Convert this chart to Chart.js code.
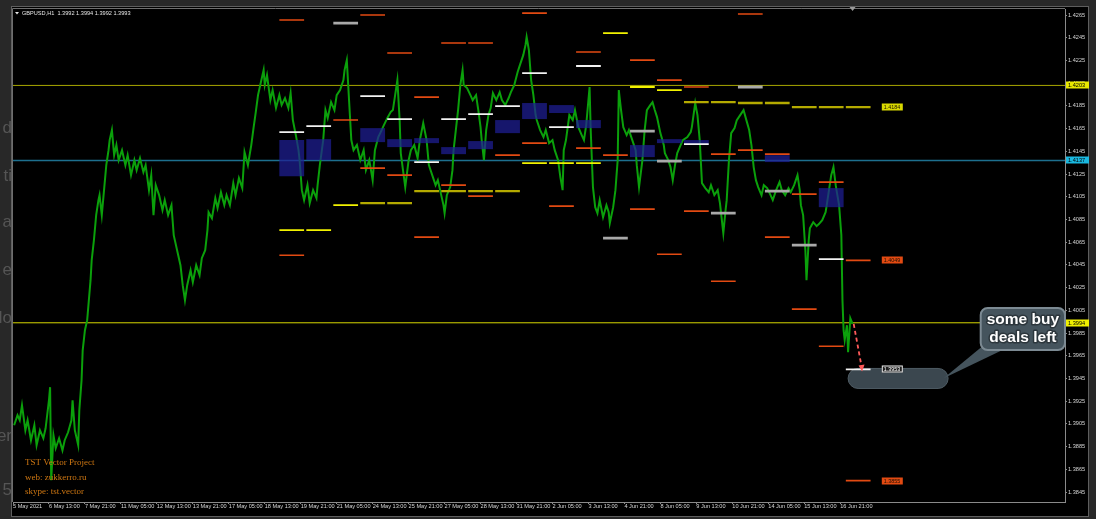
<!DOCTYPE html>
<html>
<head>
<meta charset="utf-8">
<title>GBPUSD,H1</title>
<script src="https://cdn.jsdelivr.net/npm/chart.js@4.4.0/dist/chart.umd.min.js"></script>
<style>
html,body{margin:0;padding:0;background:#282828;overflow:hidden}
canvas{display:block}
</style>
</head>
<body>
<canvas id="chart" width="1096" height="519"></canvas>
<script>
// time axis: one label every 32 hourly bars
var timeLabels = ["5 May 2021","6 May 13:00","7 May 21:00","11 May 05:00","12 May 13:00","13 May 21:00",
  "17 May 05:00","18 May 13:00","19 May 21:00","21 May 05:00","24 May 13:00","25 May 21:00","27 May 05:00",
  "28 May 13:00","31 May 21:00","2 Jun 05:00","3 Jun 13:00","4 Jun 21:00","8 Jun 05:00","9 Jun 13:00",
  "10 Jun 21:00","14 Jun 05:00","15 Jun 13:00","16 Jun 21:00"];
var priceTicks = [1.4265,1.4245,1.4225,1.4205,1.4185,1.4165,1.4145,1.4125,1.4105,1.4085,1.4065,
  1.4045,1.4025,1.4005,1.3985,1.3965,1.3945,1.3925,1.3905,1.3885,1.3865,1.3845];

// GBPUSD H1 close (bar index, price)
var priceBar = [1,4,6,8,11,13,16,19,21,24,27,29,32,33,34,36,38,41,44,46,49,52,53,55,58,59,
  61,62,64,66,69,70,72,74,76,77, 79,81,83,85,86,88,90,92,94,97, 100,102,105,108,110,113,116,118,121,123,
  125,127,130,133,135,138,141,143,146,149, 151,153,155,158,160,163,166,168,171,173,
  174,177,180,182,185,188,190,193,196,198, 201,204,206,209,212,214,216,218,221,223,
  224,226,229,231,234,237,239,242,245,247, 249,252,254,255,257,259,262,264,267,270,
  271,273,276,278,280,283,286,288,291,294, 295,297,299,301,303,306,309,312,314,317,
  320,322,325,328,330,333,336,338,340,342, 344,345,347,349,352,354,357,360,362,365,
  368,370,373,376,378,381,383,384,386,389, 391,392,394,396,398,400,401,404,407,409,
  412,414,416,417,419,421,423,425,427,430, 433,435,438,441,443,446,449,451,454,456,
  457,459,461,463,465,466,469,472,474,477, 480,482,485,487,489,490,492,495,498,500,
  503,506,508,510,513,514,516,518,520,522, 525,528,530,531,534,536,538,539,541,543,
  546,548,551,554,555,557,560,562,564,567, 569,571,573,576,579,580,583,585,587,589,
  591,594,596,600,603,604,607,609,611,613, 616,619,621,624,627,629,632,634,635,637,
  639,642,644,647,650,652,655,657,659,661, 663,666,668,671,674,676,679,682,684,687,
  690,692,695,698,700,701,703,705,706,708, 709,712,715,717,720,723,724,726,728,730,
  732,733,735,737,738,739,740,742,743,745,747];
var priceClose = [1.39038,1.39126,1.39082,1.39214,1.38994,1.39082,1.38906,1.39038,1.38862,1.38994,1.38923,1.39011,1.39258,1.39373,1.38553,1.38950,1.38835,1.38923,1.38817,1.38906,1.38976,1.39082,1.39258,1.38994,1.38862,1.39170,
  1.39434,1.39698,1.39875,1.39963,1.40315,1.40491,1.40668,1.40888,1.41020,1.41064,
  1.40888,1.41108,1.41328,1.41460,1.41549,1.41637,1.41416,1.41505,1.41372,1.41460,
  1.41328,1.41416,1.41240,1.41372,1.41284,1.41390,1.41267,1.41328,1.41108,1.41240,
  1.40888,1.41152,1.41064,1.40932,1.41020,1.40888,1.40976,1.40712,1.40579,1.40447,
  1.40271,1.40139,1.40271,1.40403,1.40298,1.40447,1.40359,1.40509,1.40579,1.40756,
  1.40914,1.40861,1.41038,1.40950,1.41090,1.40976,1.41064,1.40976,1.41170,1.41064,
  1.41214,1.41126,1.41443,1.41328,1.41505,1.41654,1.41795,1.41945,1.42077,1.42165,
  1.42033,1.42121,1.41901,1.41989,1.41831,1.41945,1.41857,1.41919,1.41831,1.41963,
  1.41725,1.41575,1.41460,1.41372,1.41108,1.41020,1.41152,1.40994,1.41108,1.41038,
  1.41152,1.41328,1.41549,1.41813,1.41742,1.41883,1.41813,1.41945,1.41989,1.42077,
  1.42165,1.42253,1.41901,1.41549,1.41460,1.41505,1.41372,1.41460,1.41284,1.41372,
  1.41196,1.41460,1.41575,1.41637,1.41681,1.41742,1.41795,1.41813,1.41945,1.42077,
  1.41725,1.41434,1.41284,1.41135,1.41372,1.41460,1.41505,1.41390,1.41549,1.41698,
  1.41549,1.41328,1.41240,1.41152,1.41196,1.41064,1.40976,1.40905,1.41064,1.41135,
  1.41284,1.41460,1.41637,1.41813,1.42033,1.42165,1.42033,1.42007,1.41945,1.41901,
  1.41945,1.41813,1.41663,1.41549,1.41372,1.41637,1.41769,1.41831,1.41963,1.41901,
  1.41971,1.41901,1.41857,1.41919,1.41971,1.42033,1.42148,1.42209,1.42297,1.42386,
  1.42456,1.42341,1.42077,1.41945,1.41769,1.41725,1.41637,1.41575,1.41637,1.41522,
  1.41549,1.41460,1.41372,1.41223,1.41108,1.41460,1.41549,1.41769,1.41725,1.41813,
  1.41663,1.41593,1.41549,1.41681,1.42016,1.41637,1.41135,1.40958,1.40905,1.41020,
  1.40870,1.40976,1.40914,1.40817,1.40958,1.41108,1.41372,1.41989,1.41813,1.41663,
  1.41593,1.41637,1.41549,1.41460,1.41328,1.41135,1.41372,1.41637,1.41813,1.41857,
  1.41883,1.41813,1.41751,1.41610,1.41505,1.41434,1.41372,1.41311,1.41196,1.41328,
  1.41434,1.41505,1.41549,1.41575,1.41619,1.41663,1.41875,1.41769,1.41549,1.41170,
  1.41126,1.41090,1.41152,1.41064,1.41108,1.40994,1.40729,1.40932,1.41020,1.41372,
  1.41610,1.41654,1.41725,1.41769,1.41813,1.41742,1.41637,1.41505,1.41311,1.41196,
  1.41135,1.41064,1.41152,1.41126,1.41064,1.41020,1.41108,1.41179,1.41108,1.41064,
  1.41126,1.41090,1.41152,1.41240,1.41108,1.40976,1.40888,1.40579,1.40315,1.40668,
  1.40773,1.40826,1.40791,1.40809,1.40844,1.40914,1.40976,1.41108,1.41240,1.41311,
  1.41152,1.41090,1.40976,1.40712,1.40139,1.39875,1.39787,1.39919,1.39681,1.39980,1.39930];

// daily indicator levels: [day column, price]
var dayStart = 237, dayBars = 24, segBars = 22;
var redLevels = [[0,1.42606],[0,1.40535],[2,1.41725],[3,1.42650],[3,1.41302],[4,1.42315],[4,1.41240],
  [5,1.41927],[5,1.40694],[6,1.42403],[6,1.41152],[7,1.42403],[7,1.41055],[8,1.41416],[9,1.42667],[9,1.41522],
  [10,1.40967],[11,1.42324],[11,1.41478],[12,1.41416],[13,1.42253],[13,1.40941],[14,1.42077],[14,1.40544],
  [15,1.42016],[15,1.40923],[16,1.41425],[16,1.40306],[17,1.42659],[17,1.41460],[18,1.41425],[18,1.40694],
  [19,1.41073],[19,1.40060],[20,1.41179],[20,1.39734],[21,1.4049],[21,1.3855]];
var whiteLevels = [[0,1.41619],[1,1.41672],[3,1.41936],[4,1.41734],[5,1.41355],[6,1.41734],[7,1.41778],
  [8,1.41848],[9,1.42139],[10,1.41663],[11,1.42201],[15,1.41513],[20,1.40500],[21,1.3953]];
var grayLevels = [[2,1.42579],[12,1.40685],[13,1.41628],[14,1.41364],[16,1.40905],[17,1.42016],[18,1.41099],[19,1.40624]];
var yellowLevels = [[0,1.40756],[1,1.40756],[2,1.40976],[9,1.41346],[10,1.41346],[11,1.41346],[12,1.42491],[13,1.42016],[14,1.41989]];
var oliveLevels = [[3,1.40994],[4,1.40994],[5,1.41099],[6,1.41099],[7,1.41099],[8,1.41099],[15,1.41883],[16,1.41883],
  [17,1.41875],[18,1.41875],[19,1.41839],[20,1.41839],[21,1.41839]];
// zones: [day column, top, bottom]
var zones = [[0,1.41549,1.41231],[1,1.41557,1.41372],[3,1.41654,1.41531],[4,1.41557,1.41487],[5,1.41566,1.41522],
  [6,1.41487,1.41425],[7,1.41540,1.41469],[8,1.41725,1.41610],[9,1.41875,1.41734],[10,1.41857,1.41787],
  [11,1.41725,1.41654],[13,1.41505,1.41399],[14,1.41557,1.41522],[15,1.41549,1.41505],[18,1.41416,1.41355],[20,1.41126,1.40958]];

var lineTop = 1.4203, lineMid = 1.4137, lineBid = 1.3994;
var levelTags = [[1.41839,"1.4184","#d8d800"],[1.4049,"1.4049","#e24a12"],[1.3953,"1.3953","#e8e8e8"],[1.3855,"1.3855","#e24a12"]];
var header = "GBPUSD,H1  1.3992 1.3994 1.3992 1.3993";
var xMax = 936;

function segs(list) {
  var out = [];
  list.forEach(function (l) {
    var s = dayStart + l[0] * dayBars;
    out.push({x: s, y: l[1]}, {x: s + segBars, y: l[1]}, {x: s + segBars, y: null});
  });
  return out;
}
function flat(p) { return [{x: 0, y: p}, {x: xMax, y: p}]; }

var FONT = "Liberation Sans";

var frame = {
  id: "frame",
  beforeDraw: function (c) {
    var g = c.ctx, a = c.chartArea;
    g.save();
    g.fillStyle = "#282828";
    g.fillRect(0, 0, c.width, c.height);
    // window behind, cut off on the left
    g.save();
    g.beginPath(); g.rect(0, 0, 11, c.height); g.clip();
    g.fillStyle = "#555555";
    g.font = "17px " + FONT;
    g.textAlign = "right"; g.textBaseline = "middle";
    [["d",128],["ti",176],["a",222],["e",270],["do",318],["er",436],["5",490]].forEach(function (t) { g.fillText(t[0], 12, t[1]); });
    g.restore();
    g.fillStyle = "#000";
    g.fillRect(11, 6, 1078, 511);
    g.strokeStyle = "#5e5e5e"; g.lineWidth = 1;
    g.strokeRect(11.5, 6.5, 1077, 510);
    g.strokeStyle = "#6e6e6e";
    g.beginPath();
    g.moveTo(a.left - 0.5, a.bottom); g.lineTo(a.left - 0.5, a.top - 0.5); g.lineTo(a.right, a.top - 0.5);
    g.stroke();
    g.restore();
  },
  beforeDatasetsDraw: function (c) {
    var g = c.ctx, xs = c.scales.x, ys = c.scales.y;
    var x0 = xs.getPixelForValue(743), x1 = xs.getPixelForValue(832), yc = ys.getPixelForValue(1.3945);
    g.save();
    g.beginPath();
    g.roundRect(x0, yc - 10, x1 - x0, 20, 10);
    g.fillStyle = "#3b474f"; g.fill();
    g.strokeStyle = "#4f5c64"; g.lineWidth = 1; g.stroke();
    g.restore();
  },
  afterDraw: function (c) {
    var g = c.ctx, a = c.chartArea, xs = c.scales.x, ys = c.scales.y;
    var X = function (v) { return xs.getPixelForValue(v); }, Y = function (v) { return ys.getPixelForValue(v); };
    g.save();
    // header
    g.fillStyle = "#e6e6e6";
    g.beginPath(); g.moveTo(15, 12); g.lineTo(19, 12); g.lineTo(17, 14.5); g.closePath(); g.fill();
    g.font = "5.6px " + FONT; g.textBaseline = "middle"; g.textAlign = "left";
    g.fillText(header, 22, 13);
    // shift marker
    g.fillStyle = "#9a9a9a";
    var sx = X(747);
    g.beginPath(); g.moveTo(sx - 3, a.top - 2); g.lineTo(sx + 3, a.top - 2); g.lineTo(sx, a.top + 2); g.closePath(); g.fill();
    // watermark
    g.fillStyle = "#d07812";
    g.font = "9px 'Liberation Serif'";
    g.fillText("TST Vector Project", 25, 463);
    g.fillText("web: zukkerro.ru", 25, 478);
    g.fillText("skype: tst.vector", 25, 492);
    // level tags
    var tx = X(dayStart + 21 * dayBars + segBars + 10);
    levelTags.forEach(function (t) {
      var y = Math.round(Y(t[0])) - 3.5;
      if (t[2] === "#e8e8e8") {
        g.fillStyle = "#202020"; g.fillRect(tx, y, 21, 7);
        g.strokeStyle = t[2]; g.strokeRect(tx + 0.5, y + 0.5, 20, 6);
        g.fillStyle = "#ffffff";
      } else {
        g.fillStyle = t[2]; g.fillRect(tx, y, 21, 7);
        g.fillStyle = "#1a1000";
      }
      g.font = "5.4px " + FONT;
      g.fillText(t[1], tx + 2, y + 3.8);
    });
    // axis price tags
    [[lineTop, "#e8e800", "#000"], [lineMid, "#1ab8e0", "#000"], [lineBid, "#f0f000", "#000"]].forEach(function (t) {
      var y = Math.round(Y(t[0])) - 3.5;
      g.fillStyle = t[1]; g.fillRect(a.right + 1, y, 23, 7);
      g.fillStyle = t[2]; g.font = "5.6px " + FONT;
      g.fillText(t[0].toFixed(4), a.right + 3, y + 3.8);
    });
    // dashed arrow
    var ax0 = X(748), ay0 = Y(1.3993), ax1 = X(755), ay1 = Y(1.3952);
    g.strokeStyle = "#ff5a5a"; g.lineWidth = 1.8; g.setLineDash([4, 3]);
    g.beginPath(); g.moveTo(ax0, ay0); g.lineTo(ax1, ay1 - 4); g.stroke();
    g.setLineDash([]);
    g.fillStyle = "#ff5a5a";
    g.beginPath(); g.moveTo(ax1 - 3, ay1 - 5); g.lineTo(ax1 + 3, ay1 - 6); g.lineTo(ax1 + 0.5, ay1 + 1); g.closePath(); g.fill();
    // speech bubble
    var bx0 = X(861), bx1 = a.right, by0 = Y(1.4007), by1 = Y(1.3970);
    var tipX = X(828), tipY = Y(1.39452);
    g.fillStyle = "#45545d";
    g.beginPath(); g.moveTo(bx0 + 2, by1 - 4); g.lineTo(bx0 + 26, by1 - 2); g.lineTo(tipX, tipY); g.closePath(); g.fill();
    g.beginPath(); g.roundRect(bx0, by0, bx1 - bx0, by1 - by0, 7);
    g.fill();
    g.strokeStyle = "#7c8a93"; g.lineWidth = 2; g.stroke();
    g.font = "bold 15.5px " + FONT; g.textAlign = "center"; g.textBaseline = "middle";
    g.lineWidth = 3; g.strokeStyle = "#2c363c"; g.lineJoin = "round";
    var cx = (bx0 + bx1) / 2;
    g.strokeText("some buy", cx, by0 + 12); g.strokeText("deals left", cx, by0 + 30);
    g.fillStyle = "#ffffff";
    g.fillText("some buy", cx, by0 + 12); g.fillText("deals left", cx, by0 + 30);
    g.restore();
  }
};

function levelSet(list, color, width) {
  return {type: "line", data: segs(list), borderColor: color, borderWidth: width, pointRadius: 0, spanGaps: false, order: 10};
}

new Chart(document.getElementById("chart"), {
  type: "line",
  data: {
    datasets: [
      levelSet(grayLevels, "#a9a9a9", 2.8),
      levelSet(whiteLevels, "#f2f2f2", 1.8),
      levelSet(redLevels, "#e24a12", 1.6),
      levelSet(yellowLevels, "#f2f200", 1.8),
      levelSet(oliveLevels, "#b4aa00", 2.4),
      {type: "bar", data: zones.map(function (z) { return {x: dayStart + z[0] * dayBars + segBars / 2, y: [z[2], z[1]]}; }),
        backgroundColor: "rgba(30,30,150,0.72)", borderWidth: 0, categoryPercentage: 1, barPercentage: 0.92, grouped: false, order: 30},
      {data: priceBar.map(function (b, i) { return {x: b, y: priceClose[i]}; }), borderColor: "#0ba00b", borderWidth: 2,
        pointRadius: 0, tension: 0, order: 40},
      {data: flat(lineTop), borderColor: "#a8a600", borderWidth: 1, pointRadius: 0, order: 50},
      {data: flat(lineMid), borderColor: "#1d6f8e", borderWidth: 1.5, pointRadius: 0, order: 50},
      {data: flat(lineBid), borderColor: "#d6d600", borderWidth: 1, pointRadius: 0, order: 50}
    ]
  },
  options: {
    responsive: false,
    animation: false,
    events: [],
    devicePixelRatio: 1,
    layout: {padding: {left: 13, top: 9, right: 0, bottom: 0}},
    plugins: {legend: {display: false}, tooltip: {enabled: false}},
    scales: {
      x: {
        type: "linear", min: 0, max: xMax, offset: false,
        grid: {display: true, drawOnChartArea: false, drawTicks: true, tickLength: 2, color: "#8a8a8a", offset: false},
        border: {display: true, color: "#8a8a8a"},
        afterBuildTicks: function (s) { s.ticks = timeLabels.map(function (t, i) { return {value: i * 32}; }); },
        afterFit: function (s) { s.height = 17; },
        ticks: {
          align: "start", padding: -1, autoSkip: false, maxRotation: 0, color: "#d6d6d6",
          font: {size: 5.6, family: FONT},
          callback: function (v) { return timeLabels[Math.round(v / 32)]; }
        }
      },
      y: {
        type: "linear", position: "right", min: 1.38362, max: 1.42703,
        grid: {display: true, drawOnChartArea: false, drawTicks: true, tickLength: 2, color: "#8a8a8a"},
        border: {display: true, color: "#8a8a8a"},
        afterBuildTicks: function (s) { s.ticks = priceTicks.map(function (v) { return {value: v}; }); },
        afterFit: function (s) { s.width = 31; },
        ticks: {
          crossAlign: "near", padding: 1, color: "#d6d6d6",
          font: {size: 5.6, family: FONT},
          callback: function (v) { return v.toFixed(4); }
        }
      }
    }
  },
  plugins: [frame]
});
</script>
</body>
</html>
